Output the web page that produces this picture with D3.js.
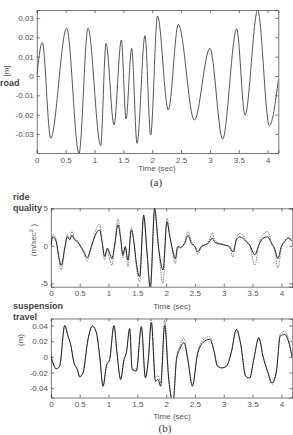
<!DOCTYPE html>
<html>
<head>
<meta charset="utf-8">
<script src="https://cdn.jsdelivr.net/npm/d3@7"></script>
<style>
  body { margin: 0; background: #fff; }
  svg { display: block; font-family: "Liberation Sans", Arial, sans-serif; }
</style>
</head>
<body>
<svg id="fig" width="293" height="435"></svg>
<script>
// ---- data ----
var xTicks = [0, 0.5, 1, 1.5, 2, 2.5, 3, 3.5, 4];

// (a) road profile, peaks and troughs
var roadT = [0, 0.096, 0.24, 0.518, 0.731, 0.887, 1.107, 1.199, 1.338, 1.465, 1.546, 1.644, 1.737, 1.875, 1.973, 2.092, 2.279, 2.453, 2.73, 3.0, 3.22, 3.464, 3.608, 3.828, 4.03, 4.185];
var roadV = [0.000, 0.0172, -0.0322, 0.0247, -0.0400, 0.0247, -0.0360, 0.0169, -0.0253, 0.0186, -0.0222, 0.0143, -0.0348, 0.0209, -0.0305, 0.0310, -0.0176, 0.0267, -0.0228, 0.0143, -0.0326, 0.0243, -0.0202, 0.0341, -0.0257, -0.0020];
var roadTicks = [-0.03, -0.02, -0.01, 0, 0.01, 0.02, 0.03];

// (b) ride quality
var rideT = [0, 0.036, 0.094, 0.123, 0.18, 0.24, 0.286, 0.326, 0.366, 0.41, 0.46, 0.50, 0.557, 0.633, 0.673, 0.73, 0.806, 0.847, 0.887, 0.934, 0.98, 1.02, 1.06, 1.107, 1.165, 1.21, 1.25, 1.29, 1.338, 1.396, 1.44, 1.48, 1.54, 1.61, 1.668, 1.726, 1.80, 1.87, 1.945, 2.015, 2.06, 2.10, 2.16, 2.20, 2.25, 2.32, 2.38, 2.44, 2.50, 2.55, 2.61, 2.67, 2.73, 2.80, 2.84, 2.90, 2.96, 3.02, 3.10, 3.16, 3.22, 3.28, 3.33, 3.39, 3.45, 3.54, 3.61, 3.68, 3.76, 3.83, 3.88, 3.94, 4.00, 4.06, 4.12, 4.19];
var rideSolid = [0.1, 1.2, 0.5, -0.8, -2.6, -0.3, 1.2, 0.8, 1.4, 0.8, 0.55, 0.1, -0.56, -1.6, -0.8, 0.55, 1.9, 2.1, 0.55, -1.4, -0.3, -1.0, -1.7, 0.1, 2.8, 1.0, -1.2, -0.1, -1.9, 2.1, 0.55, -2.1, -4.1, 4.1, -0.8, -5.6, 5.0, -0.3, -3.2, 3.2, 1.4, -0.1, -1.7, -0.1, -0.2, 0.3, 1.4, 0.3, -0.1, -0.8, -0.1, 0.1, 0.3, 1.0, 0.55, 0.3, 0.2, 0.1, -0.1, -0.8, 0.8, 1.2, 1.0, 0.55, 0.1, -1.2, 0.1, 1.0, 1.2, 0.3, -0.3, -1.7, -0.1, 0.55, 1.0, 0.55];
var rideDashed = [0.2, 1.5, 0.7, -1.0, -3.2, -0.5, 1.5, 1.0, 1.9, 1.0, 0.7, 0.1, -0.7, -2.0, -1.0, 0.7, 2.6, 2.9, 0.7, -1.9, -0.5, -1.8, -2.6, 0.1, 3.6, 1.3, -1.6, -0.2, -2.8, 2.5, 0.7, -2.6, -4.8, 3.8, -1.2, -5.8, 4.4, -0.5, -5.0, 3.7, 1.6, -0.3, -2.4, -0.3, -0.3, 0.5, 1.9, 0.6, -0.2, -1.1, -0.2, 0.2, 0.5, 1.7, 0.8, 0.4, 0.3, 0.1, -0.2, -1.5, 1.0, 1.7, 1.4, 0.7, 0.1, -2.6, 0.2, 1.5, 1.9, 0.4, -0.5, -3.0, -0.3, 0.7, 1.2, 0.7];
var rideTicks = [-5, 0, 5];

// (b) suspension travel
var suspT = [0, 0.094, 0.152, 0.24, 0.297, 0.343, 0.40, 0.46, 0.50, 0.557, 0.644, 0.72, 0.79, 0.847, 0.905, 0.963, 1.02, 1.095, 1.147, 1.21, 1.27, 1.31, 1.367, 1.41, 1.483, 1.57, 1.64, 1.686, 1.744, 1.813, 1.86, 1.905, 1.975, 2.045, 2.12, 2.18, 2.235, 2.31, 2.38, 2.455, 2.55, 2.67, 2.756, 2.83, 2.89, 2.96, 3.046, 3.13, 3.22, 3.295, 3.38, 3.45, 3.526, 3.61, 3.68, 3.76, 3.84, 3.915, 3.98, 4.06, 4.13, 4.19];
var suspSolid = [0.001, -0.0154, -0.0119, 0.040, 0.0265, 0.0158, -0.0076, -0.016, -0.0256, -0.0205, 0.0223, 0.0394, 0.0308, 0.001, -0.0376, -0.0119, -0.0034, 0.040, 0.0052, -0.029, -0.0034, 0.0052, 0.036, -0.016, -0.0183, 0.0385, -0.0269, -0.0076, 0.0436, -0.031, -0.029, -0.0376, 0.040, -0.029, -0.058, -0.0034, 0.0094, 0.018, -0.0055, -0.0376, 0.0052, 0.0201, 0.0223, 0.0073, -0.0119, -0.014, -0.0119, 0.0052, 0.0351, 0.0158, -0.0247, -0.0269, -0.0013, 0.0244, 0.001, -0.0183, -0.0333, -0.0183, 0.0265, 0.0287, 0.018, -0.0013];
var suspDashed = [0.001, -0.0150, -0.0115, 0.040, 0.0265, 0.0160, -0.0070, -0.0175, -0.0250, -0.0210, 0.0225, 0.0394, 0.0308, 0.001, -0.0370, -0.0115, -0.0030, 0.040, 0.0055, -0.028, -0.0030, 0.0055, 0.036, -0.0150, -0.0175, 0.0385, -0.0260, -0.0070, 0.048, -0.027, -0.024, -0.033, 0.047, -0.026, -0.058, -0.0010, 0.0130, 0.0235, -0.0030, -0.0360, 0.0070, 0.0235, 0.0260, 0.0090, -0.0110, -0.0145, -0.0125, 0.0052, 0.0355, 0.0160, -0.0240, -0.0285, -0.0010, 0.0250, 0.0015, -0.0180, -0.0350, -0.0175, 0.0290, 0.0330, 0.0200, -0.0010];
var suspTicks = [-0.04, -0.02, 0, 0.02, 0.04];

var svg = d3.select("#fig");
var axisCol = "#555", textCol = "#555";
var fmt = function(d) { return String(+d.toFixed(2)); };

// one panel: box, inward ticks on all four sides, labels
function panel(id, box, xDom, yDom, yTicks) {
  var x = d3.scaleLinear().domain(xDom).range([box.l, box.r]);
  var y = d3.scaleLinear().domain(yDom).range([box.b, box.t]);
  var g = svg.append("g").attr("id", id);

  g.append("clipPath").attr("id", id + "clip")
    .append("rect").attr("x", box.l).attr("y", box.t)
    .attr("width", box.r - box.l).attr("height", box.b - box.t);

  g.append("g").attr("transform", "translate(0," + box.b + ")")
    .call(d3.axisBottom(x).tickValues(xTicks).tickSize(-3).tickPadding(4).tickFormat(fmt));
  g.append("g").attr("transform", "translate(0," + box.t + ")")
    .call(d3.axisTop(x).tickValues(xTicks).tickSize(-3).tickFormat(""));
  g.append("g").attr("transform", "translate(" + box.l + ",0)")
    .call(d3.axisLeft(y).tickValues(yTicks).tickSize(-3).tickPadding(3).tickFormat(fmt));
  g.append("g").attr("transform", "translate(" + box.r + ",0)")
    .call(d3.axisRight(y).tickValues(yTicks).tickSize(-3).tickFormat(""));

  g.selectAll(".domain").attr("stroke", axisCol).attr("stroke-width", 0.8);
  g.selectAll(".tick line").attr("stroke", axisCol).attr("stroke-width", 0.8);
  g.selectAll(".tick text").attr("fill", textCol)
    .style("font-size", "8px").style("font-family", "Liberation Sans, Arial, sans-serif");

  var plot = g.append("g").attr("clip-path", "url(#" + id + "clip)");
  return { x: x, y: y, g: g, plot: plot };
}

function trace(p, ts, vs, color, width, dash) {
  var line = d3.line().x(function(d) { return p.x(d[0]); })
    .y(function(d) { return p.y(d[1]); }).curve(d3.curveMonotoneX);
  p.plot.append("path").datum(d3.zip(ts, vs))
    .attr("d", line).attr("fill", "none")
    .attr("stroke", color).attr("stroke-width", width)
    .attr("stroke-dasharray", dash || null);
}

function label(txt, x, y, opts) {
  opts = opts || {};
  var t = svg.append("text").attr("x", x).attr("y", y)
    .attr("fill", opts.fill || "#333")
    .attr("text-anchor", opts.anchor || "start")
    .style("font-size", (opts.size || 9) + "px")
    .style("font-weight", opts.weight || "normal")
    .style("font-family", opts.family || "Liberation Sans, Arial, sans-serif")
    .text(txt);
  if (opts.rotate) t.attr("transform", "rotate(-90," + x + "," + y + ")");
  return t;
}

// (a)
var pa = panel("pa", { l: 36.8, r: 278.3, t: 10, b: 153 }, [0, 4.185], [-0.0398, 0.0341], roadTicks);
trace(pa, roadT, roadV, "#555", 1);
label("Time (sec)", 157, 171, { anchor: "middle", size: 8, fill: textCol });
label("(a)", 156, 186, { anchor: "middle", size: 11, family: "Liberation Serif, Times New Roman, serif", fill: "#333" });
label("[m]", 9, 71, { anchor: "middle", size: 8, rotate: true, fill: textCol });
label("road", 0, 86, { size: 9, weight: "bold", fill: "#444" });

// (b) ride quality
var pb1 = panel("pb1", { l: 50.9, r: 292.3, t: 208.3, b: 286.7 }, [0, 4.19], [-5.45, 5], rideTicks);
trace(pb1, rideT, rideDashed, "#777", 0.9, "1.5,1");
trace(pb1, rideT, rideSolid, "#111", 0.9);
label("Time (sec)", 172, 309, { anchor: "middle", size: 8, fill: textCol });
label("ride", 13, 200, { size: 9, weight: "bold", fill: "#444" });
label("quality", 13, 211, { size: 9, weight: "bold", fill: "#444" });
var rq = label("(m/sec", 36, 240, { anchor: "middle", size: 8, rotate: true, fill: textCol });
rq.append("tspan").attr("dy", -3).style("font-size", "6px").text("2");
rq.append("tspan").attr("dy", 3).text(" )");

// (b) suspension travel
var pb2 = panel("pb2", { l: 50.9, r: 292.3, t: 318.5, b: 397.5 }, [0, 4.19], [-0.052, 0.049], suspTicks);
trace(pb2, suspT, suspDashed, "#777", 0.9, "1.5,1");
trace(pb2, suspT, suspSolid, "#111", 0.9);
label("Time (sec)", 172, 419, { anchor: "middle", size: 8, fill: textCol });
label("suspension", 13, 309, { size: 9, weight: "bold", fill: "#444" });
label("travel", 13, 320, { size: 9, weight: "bold", fill: "#444" });
label("(m)", 23, 340, { anchor: "middle", size: 8, rotate: true, fill: textCol });
label("(b)", 165, 432, { anchor: "middle", size: 11, family: "Liberation Serif, Times New Roman, serif", fill: "#333" });
</script>
</body>
</html>
